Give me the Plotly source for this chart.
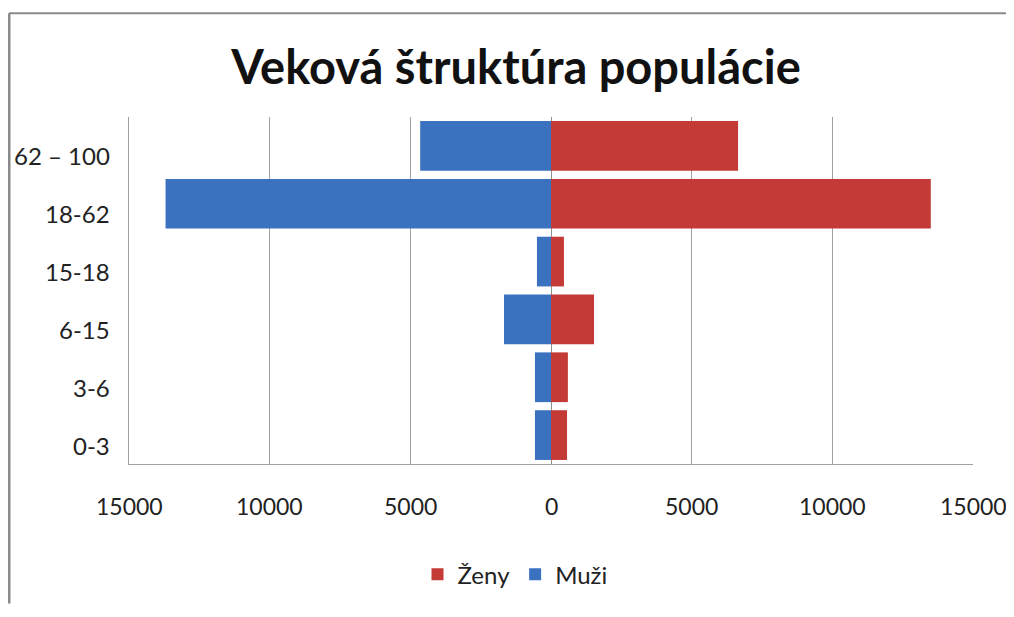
import plotly.graph_objects as go

categories = ["0-3", "3-6", "6-15", "15-18", "18-62", "62 – 100"]
zeny = [570, 600, 1530, 460, 13500, 6650]
muzi = [570, 570, 1670, 500, 13700, 4650]
tick_vals = [-15000, -10000, -5000, 0, 5000, 10000, 15000]
tick_text = ["15000", "10000", "5000", "0", "5000", "10000", "15000"]

# page has an 8px body margin; figure coordinates = reference - 8
W, H = 998, 601
L, T = 121, 109
PW, PH = 844, 351

fig = go.Figure()
fig.add_trace(go.Bar(
    y=categories, x=zeny, name="Ženy", orientation="h",
    marker=dict(color="#c43a37", line=dict(width=0)),
))
fig.add_trace(go.Bar(
    y=categories, x=[-v for v in muzi], name="Muži", orientation="h",
    marker=dict(color="#3a72c0", line=dict(width=0)),
))

def px_x(x):
    return (x - 8 - L) / PW

def px_y(y):
    return (T + PH - (y - 8)) / PH

# category labels (slightly below bar centres, as in the original)
annotations = [
    dict(x=0, xref="paper", y=c, yref="y", text=c, showarrow=False,
         xanchor="right", yanchor="middle", xshift=-17, yshift=-10,
         font=dict(size=24, color="#222", family="Lato"))
    for c in categories
]
# value-axis labels
annotations += [
    dict(x=v, xref="x", y=0, yref="paper", text=t, showarrow=False,
         xanchor="center", yanchor="middle", yshift=-42,
         font=dict(size=23, color="#222", family="Lato"))
    for v, t in zip(tick_vals, tick_text)
]

fig.update_layout(
    width=W, height=H,
    margin=dict(l=L, r=W - L - PW, t=T, b=H - T - PH),
    paper_bgcolor="white", plot_bgcolor="white",
    barmode="relative", bargap=0.14,
    font=dict(family="Lato", color="#222"),
    title=dict(text="<b>Veková štruktúra populácie</b>", x=(516 - 8) / W, xanchor="center",
               y=1 - (68 - 8) / H, yanchor="middle", font=dict(size=47, family="Lato", color="#111")),
    xaxis=dict(range=[-15000, 15000], tickvals=tick_vals,
               showgrid=True, gridcolor="#a0a0a0", gridwidth=1,
               zeroline=True, zerolinecolor="#909090", zerolinewidth=1,
               showline=True, linecolor="#a0a0a0", linewidth=1,
               ticks="", showticklabels=False, fixedrange=True),
    yaxis=dict(showgrid=False, showline=True, linecolor="#a0a0a0", linewidth=1,
               ticks="", showticklabels=False, fixedrange=True),
    legend=dict(orientation="h", x=px_x(515), xanchor="center", y=px_y(580), yanchor="middle",
                font=dict(size=24, color="#222"), traceorder="normal",
                itemwidth=30),
    showlegend=True,
    annotations=annotations,
    shapes=[
        dict(type="line", xref="paper", yref="paper",
             x0=px_x(9), x1=px_x(1006), y0=px_y(12), y1=px_y(12),
             line=dict(color="#8a8a8a", width=2)),
        dict(type="line", xref="paper", yref="paper",
             x0=px_x(9), x1=px_x(9), y0=px_y(12), y1=px_y(609),
             line=dict(color="#8a8a8a", width=3)),
    ],
)

fig.write_html("out.html")
